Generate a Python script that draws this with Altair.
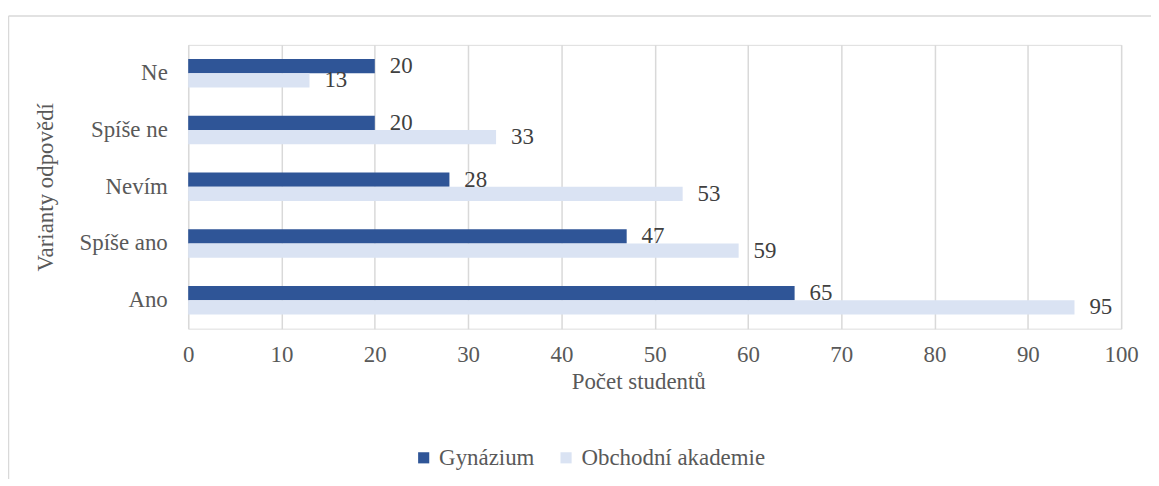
import altair as alt
import pandas as pd

categories = ["Ne", "Spíše ne", "Nevím", "Spíše ano", "Ano"]
series = ["Gynázium", "Obchodní akademie"]
gymnazium = [20, 20, 28, 47, 65]
obchodni = [13, 33, 53, 59, 95]
x_ticks = list(range(0, 101, 10))

rows = []
for c, g, o in zip(categories, gymnazium, obchodni):
    rows.append({"Odpoved": c, "Skupina": series[0], "Pocet": g})
    rows.append({"Odpoved": c, "Skupina": series[1], "Pocet": o})
df = pd.DataFrame(rows)

FONT = "Liberation Serif"
FS = 23
colors = ["#2F5597", "#DAE3F3"]

y_enc = alt.Y(
    "Odpoved:N",
    sort=categories,
    scale=alt.Scale(paddingInner=0.5, paddingOuter=0.25),
    axis=alt.Axis(
        title="Varianty odpovědí",
        titleFont=FONT, titleFontSize=FS, titleFontWeight="normal",
        titleColor="#595959", titlePadding=22,
        labelFont=FONT, labelFontSize=FS, labelColor="#595959",
        labelPadding=21, ticks=False, domain=False, labelLimit=0,
    ),
)
x_enc = alt.X(
    "Pocet:Q",
    scale=alt.Scale(domain=[0, 100], nice=False),
    axis=alt.Axis(
        title="Počet studentů", values=x_ticks,
        titleFont=FONT, titleFontSize=FS, titleFontWeight="normal",
        titleColor="#595959", titlePadding=4, titleX=452,
        labelFont=FONT, labelFontSize=FS, labelColor="#595959",
        labelPadding=15, ticks=False, domain=False, labelFlush=False,
        grid=True, gridColor="#D9D9D9", gridWidth=1.5,
    ),
)
yoff = alt.YOffset("Skupina:N", sort=series)

bars = alt.Chart(df).mark_bar().encode(
    x=x_enc,
    y=y_enc,
    yOffset=yoff,
    color=alt.Color(
        "Skupina:N",
        sort=series,
        scale=alt.Scale(domain=series, range=colors),
        legend=alt.Legend(
            title=None, orient="none", direction="horizontal",
            legendX=225, legendY=403,
            symbolType="square", symbolSize=125, symbolStrokeWidth=0,
            labelFont=FONT, labelFontSize=FS, labelColor="#595959",
            columnPadding=20, labelOffset=4, labelLimit=0,
        ),
    ),
)

labels = alt.Chart(df).mark_text(
    align="left", baseline="middle", dx=15, font=FONT, fontSize=FS, color="#404040"
).encode(
    x="Pocet:Q",
    y=alt.Y("Odpoved:N", sort=categories),
    yOffset=yoff,
    text="Pocet:Q",
)

frame_data = alt.Data(values=[{"a": 1}])
top_rule = alt.Chart(frame_data).mark_rule(color="#D9D9D9", strokeWidth=1.5).encode(
    x=alt.value(-180.5), x2=alt.value(1000), y=alt.value(-29)
)
left_rule = alt.Chart(frame_data).mark_rule(color="#D9D9D9", strokeWidth=1.5).encode(
    x=alt.value(-180.5), y=alt.value(-29), y2=alt.value(460)
)

chart = alt.layer(top_rule, left_rule, bars, labels).properties(
    width=937,
    height=285,
    autosize=alt.AutoSizeParams(type="none"),
    padding={"left": 181, "top": 36, "right": 30, "bottom": 150},
).configure_view(stroke=None).configure(background="white")

chart.save("out.html", embed_options={"renderer": "svg", "actions": False})
